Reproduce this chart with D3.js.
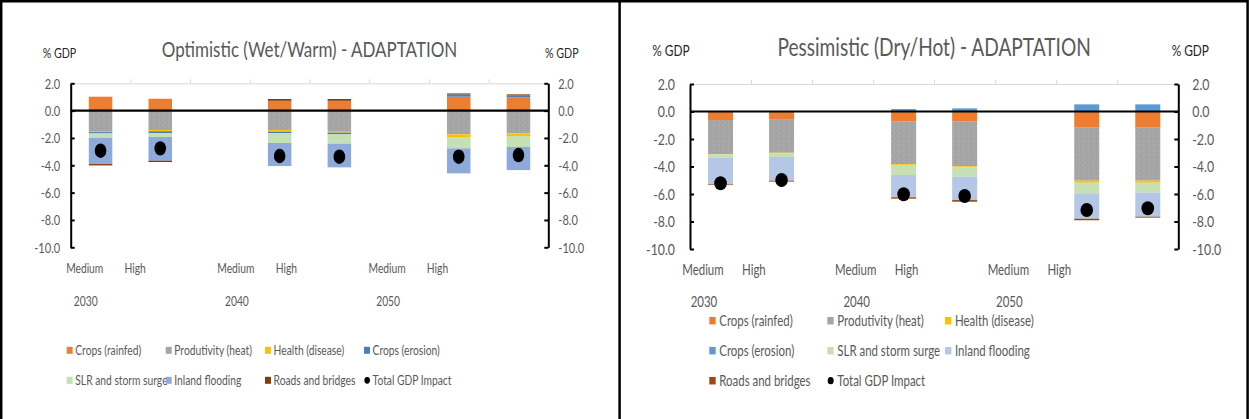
<!doctype html>
<html>
  <head>
    <meta charset="utf-8">
    <script src="https://cdnjs.cloudflare.com/ajax/libs/d3/7.8.5/d3.min.js"></script>
    <style>
      body { margin: 0; background: #fff; }
      svg { display: block; font-family: Lato, "Open Sans", sans-serif; }
      .frame { stroke: #000; stroke-width: 2.5; fill: none; }
      .cataxis path, .cataxis line { stroke: #d9d9d9; stroke-width: 1; }
      .valaxis path, .valaxis line { stroke: #000; stroke-width: 2; }
      .valaxis text { fill: #595959; }
      path.zero { stroke: #000; stroke-width: 2.2; }
    </style>
  </head>
  <body>
    <svg width="1249" height="419"></svg>
    <script>
      // chart data
      var years = ["2030", "2040", "2050"];
      var levels = ["Medium", "High"];
      var seriesNames = ["Crops (rainfed)", "Produtivity (heat)", "Health (disease)", "Crops (erosion)",
                         "SLR and storm surge", "Inland flooding", "Roads and bridges"];
      var totalName = "Total GDP Impact";
      var yTicks = [2, 0, -2, -4, -6, -8, -10];

      // Optimistic (Wet/Warm), one value per bar: 2030 M/H, 2040 M/H, 2050 M/H
      var optCropsRainfed = [1.02, 0.87, 0.72, 0.72, 1.02, 0.97];
      var optProductivity = [-1.49, -1.42, -1.42, -1.49, -1.74, -1.66];
      var optHealth       = [-0.08, -0.09, -0.12, -0.12, -0.19, -0.20];
      var optErosion      = [-0.10, -0.15, -0.12, -0.13, 0.17, 0.15];
      var optSlr          = [-0.31, -0.27, -0.71, -0.68, -0.83, -0.80];
      var optInland       = [-1.93, -1.73, -1.68, -1.73, -1.83, -1.69];
      var optRoads        = [-0.10, -0.10, 0.13, 0.13, 0.07, 0.07];
      var optTotal        = [-2.93, -2.76, -3.32, -3.37, -3.37, -3.25];

      // Pessimistic (Dry/Hot)
      var pesCropsRainfed = [-0.62, -0.55, -0.74, -0.74, -1.18, -1.18];
      var pesProductivity = [-2.47, -2.45, -3.10, -3.25, -3.85, -3.85];
      var pesHealth       = [-0.03, -0.03, -0.10, -0.09, -0.15, -0.15];
      var pesErosion      = [0, 0, 0.18, 0.23, 0.52, 0.52];
      var pesSlr          = [-0.24, -0.28, -0.68, -0.66, -0.77, -0.72];
      var pesInland       = [-1.94, -1.72, -1.62, -1.70, -1.85, -1.75];
      var pesRoads        = [-0.05, -0.07, -0.10, -0.12, -0.11, -0.07];
      var pesTotal        = [-5.22, -4.98, -6.02, -6.15, -7.16, -7.04];

      var SX = 0.79; // text is horizontally squeezed in the original

      var svg = d3.select("svg");

      // grainy grey like the excel texture fill
      var pat = svg.append("defs").append("pattern")
        .attr("id", "grain").attr("width", 5).attr("height", 5)
        .attr("patternUnits", "userSpaceOnUse");
      pat.append("rect").attr("width", 5).attr("height", 5).attr("fill", "#a6a6a6");
      [[0, 0, "#9b9b9b"], [3, 1, "#b0b0b0"], [1, 3, "#9d9d9d"], [4, 4, "#afafaf"], [2, 2, "#a0a0a0"]].forEach(d => {
        pat.append("rect").attr("x", d[0]).attr("y", d[1]).attr("width", 1).attr("height", 1).attr("fill", d[2]);
      });

      // frame
      svg.append("path").attr("class", "frame")
        .attr("d", "M1.2,419V1.3H1247.6V419M619.6,1.3V419");

      function txt(g, x, y, s, size, anchor, fill) {
        return g.append("text")
          .attr("transform", "translate(" + x + "," + y + ") scale(" + SX + ",1)")
          .attr("text-anchor", anchor || "start")
          .style("font-size", size + "px")
          .attr("fill", fill || "#595959")
          .text(s);
      }

      function drawPanel(p) {
        var g = svg.append("g");

        var slots = [];
        var barSlots = [];
        years.forEach((yr, i) => {
          levels.forEach(l => { slots.push(yr + "|" + l); barSlots.push(yr + "|" + l); });
          if (i < years.length - 1) slots.push("gap" + i);
        });

        var x = d3.scaleBand().domain(slots).range([p.x0, p.x1]);
        var lx = d3.scaleBand().domain(slots).range(p.labelRange);
        var y = d3.scaleLinear().domain([-10, 2]).range([p.yBottom, p.yTop]);
        var edge = d3.scaleLinear().domain([0, slots.length]).range([p.x0, p.x1]);

        var rows = barSlots.map((s, k) => {
          var r = { slot: s, total: p.total[k] };
          seriesNames.forEach((n, j) => r[n] = p.values[j][k]);
          return r;
        });
        var stacked = d3.stack().keys(seriesNames).offset(d3.stackOffsetDiverging)(rows);

        // category axis along the top
        g.append("g").attr("class", "cataxis")
          .attr("transform", "translate(0," + y(2) + ")")
          .call(d3.axisTop(edge).tickValues(d3.range(1, slots.length)).tickFormat("").tickSize(4).tickSizeOuter(0));

        // bars
        g.selectAll("g.series").data(stacked).enter().append("g")
            .attr("class", "series")
            .attr("fill", (d, i) => i == 1 ? "url(#grain)" : p.colors[i])
          .selectAll("rect").data(d => d).enter().append("rect")
            .attr("x", d => x(d.data.slot) + (x.bandwidth() - p.barWidth) / 2)
            .attr("width", p.barWidth)
            .attr("y", d => y(Math.max(d[0], d[1])))
            .attr("height", d => Math.abs(y(d[0]) - y(d[1])));

        // zero line
        g.append("path").attr("class", "zero")
          .attr("d", "M" + p.x0 + "," + y(0) + "H" + p.x1);

        // value axes
        var la = g.append("g").attr("class", "valaxis")
          .attr("transform", "translate(" + p.x0 + ",0)")
          .call(d3.axisLeft(y).tickValues(yTicks).tickFormat(v => v.toFixed(1)).tickSizeInner(-4).tickSizeOuter(0));
        la.selectAll(".tick text").attr("x", null).attr("dy", "0.35em")
          .attr("transform", "translate(" + (-p.tickGapL) + ",0) scale(" + SX + ",1)")
          .style("font-size", p.tickSize + "px").style("font-family", "Lato");

        var ra = g.append("g").attr("class", "valaxis")
          .attr("transform", "translate(" + p.x1 + ",0)")
          .call(d3.axisRight(y).tickValues(yTicks).tickFormat(v => v.toFixed(1)).tickSizeInner(-4).tickSizeOuter(0));
        ra.selectAll(".tick text").attr("x", null).attr("dy", "0.35em")
          .attr("transform", "translate(" + p.tickGapR + ",0) scale(" + SX + ",1)")
          .style("font-size", p.tickSize + "px").style("font-family", "Lato");

        // total markers
        g.selectAll("ellipse.total").data(rows).enter().append("ellipse")
          .attr("class", "total")
          .attr("cx", d => x(d.slot) + x.bandwidth() / 2)
          .attr("cy", d => y(d.total))
          .attr("rx", p.dotRx).attr("ry", p.dotRy)
          .attr("fill", "#000");

        // titles
        txt(g, (p.x0 + p.x1) / 2, p.titleY, p.title, p.titleSize, "middle");
        txt(g, p.gdpL, p.gdpY, "% GDP", p.gdpSize, "start", "#262626");
        txt(g, p.gdpR, p.gdpY, "% GDP", p.gdpSize, "start", "#262626");

        // category labels (they sit on their own, narrower spacing)
        barSlots.forEach(s => {
          txt(g, lx(s) + lx.bandwidth() / 2, p.catY, s.split("|")[1], p.catSize, "middle");
        });
        years.forEach(yr => {
          txt(g, lx(yr + "|" + levels[0]) + lx.bandwidth() / 2 + 1, p.yearY, yr, p.catSize, "middle");
        });

        // legend
        var items = seriesNames.concat([totalName]);
        items.forEach((n, i) => {
          var cx = p.legCols[i % p.legCols.length];
          var cy = p.legRows[Math.floor(i / p.legCols.length)];
          if (i < seriesNames.length) {
            g.append("rect").attr("x", cx).attr("y", cy - p.legBox / 2)
              .attr("width", p.legBox * 0.85).attr("height", p.legBox)
              .attr("fill", p.colors[i]);
          } else {
            g.append("ellipse").attr("cx", cx + p.legBox * 0.45).attr("cy", cy)
              .attr("rx", p.legBox * 0.4).attr("ry", p.legBox * 0.48).attr("fill", "#000");
          }
          txt(g, cx + p.legText, cy + p.legSize * 0.36, n, p.legSize, "start");
        });
      }

      drawPanel({
        title: "Optimistic (Wet/Warm) - ADAPTATION",
        values: [optCropsRainfed, optProductivity, optHealth, optErosion, optSlr, optInland, optRoads],
        total: optTotal,
        colors: ["#ed7d31", "#a5a5a5", "#ffc000", "#4a7ebb", "#c5e0b4", "#8eaadb", "#843c0c"],
        x0: 70.7, x1: 548.3, yTop: 83.3, yBottom: 247.3,
        barWidth: 23.5, dotRx: 5.8, dotRy: 7.2,
        tickSize: 14, tickGapL: 10.5, tickGapR: 10,
        titleY: 56.5, titleSize: 21.5,
        gdpL: 42.7, gdpR: 545, gdpY: 57.5, gdpSize: 13.5,
        labelRange: [59.5, 462.7], catY: 273, yearY: 306, catSize: 13,
        legCols: [66.7, 165.7, 265, 364], legRows: [350.3, 380.3],
        legBox: 7, legText: 8.6, legSize: 13
      });

      drawPanel({
        title: "Pessimistic (Dry/Hot) - ADAPTATION",
        values: [pesCropsRainfed, pesProductivity, pesHealth, pesErosion, pesSlr, pesInland, pesRoads],
        total: pesTotal,
        colors: ["#ed7d31", "#a5a5a5", "#ffc000", "#5b9bd5", "#c5e0b4", "#b4c7e7", "#9e480e"],
        x0: 690, x1: 1178.3, yTop: 84, yBottom: 249,
        barWidth: 25, dotRx: 6.3, dotRy: 7,
        tickSize: 15.6, tickGapL: 15, tickGapR: 14,
        titleY: 56, titleSize: 24.2,
        gdpL: 652.3, gdpR: 1171.7, gdpY: 56, gdpSize: 15,
        labelRange: [677.5, 1084.7], catY: 275, yearY: 307, catSize: 14.5,
        legCols: [709.3, 827.3, 945], legRows: [320.7, 350.7, 380.7],
        legBox: 7.5, legText: 10, legSize: 14.5
      });
    </script>
  </body>
</html>
